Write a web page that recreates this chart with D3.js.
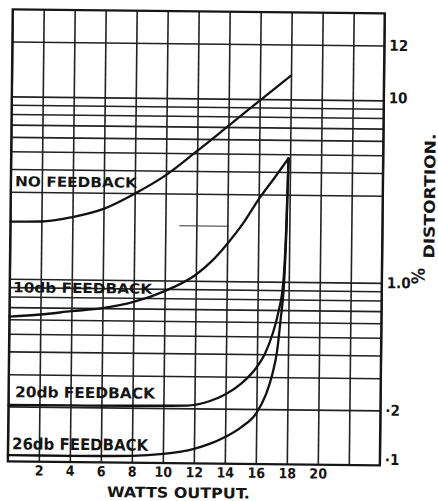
<!DOCTYPE html>
<html lang="en">
<head>
<meta charset="utf-8" />
<title>% Distortion vs Watts Output</title>
<script src="https://cdn.jsdelivr.net/npm/d3@7"></script>
<style>
  body { margin: 0; background: #fff; }
  svg { display: block; }
  svg text {
    font-family: "DejaVu Sans Condensed", "DejaVu Sans", sans-serif;
    font-weight: bold;
    fill: #151515;
  }
  .grid line { stroke: #222; stroke-width: 1.6; }
  .grid path, .axis path { display: none; }
  .frame { fill: none; stroke: #161616; stroke-width: 2.3; }
  .curve { fill: none; stroke: #111; stroke-width: 2.3; stroke-linecap: round; }
</style>
</head>
<body>
<div id="chart"></div>
<script>
// watts output (x) and % distortion (y, log scale)
var noFbWatts = [0, 2, 4, 6, 8, 10, 12, 14, 16, 18];
var noFb      = [2.06, 2.07, 2.2, 2.45, 2.98, 3.78, 5.15, 7.1, 9.8, 13.5];

var fb10Watts = [0, 2, 4, 6, 8, 10, 12, 13, 14, 15, 16, 17, 17.9];
var fb10      = [0.62, 0.64, 0.67, 0.70, 0.76, 0.875, 1.08, 1.28, 1.6, 2.07, 2.82, 3.7, 4.75];

var fb20Watts = [0, 4, 8, 11.5, 13, 14, 15, 16, 16.5, 17, 17.35, 17.65, 17.8, 17.9];
var fb20      = [0.204, 0.204, 0.205, 0.207, 0.22, 0.24, 0.275, 0.34, 0.40, 0.52, 0.68, 1.0, 2.0, 4.75];

var fb26Watts = [0, 4, 8, 10, 12, 13, 14, 15, 16, 16.6, 17, 17.3, 17.5, 17.7, 17.82, 17.9];
var fb26      = [0.108, 0.108, 0.109, 0.112, 0.12, 0.128, 0.14, 0.158, 0.19, 0.24, 0.31, 0.42, 0.62, 1.0, 2.0, 4.75];

var curveNames = ["NO FEEDBACK", "10db FEEDBACK", "20db FEEDBACK", "26db FEEDBACK"];

var xTicks = [2, 4, 6, 8, 10, 12, 14, 16, 18, 20];
var gridWatts = d3.range(0, 25, 2);
var yTicks = [0.1, 0.2, 1, 10, 20];
var yTickLabels = ["·1", "·2", "1.0", "10", "12"];
var gridPct = [0.2, 0.3, 0.4, 0.5, 0.6, 0.7, 0.8, 0.9, 1, 3, 4, 5, 6, 7, 8, 9, 10, 20];

var width = 438, height = 501;
var plotLeft = 12.7, plotRight = 384.7, plotTop = 9.3, plotBottom = 461.3;

var x = d3.scaleLinear().domain([0, 24]).range([plotLeft, plotRight]);
var y = d3.scaleLog().domain([0.1, 30]).range([plotBottom, plotTop]);

var svg = d3.select("#chart").append("svg")
    .attr("width", width)
    .attr("height", height);

svg.append("rect").attr("width", width).attr("height", height).attr("fill", "#fff");

// the scanned sheet sits slightly skewed
var g = svg.append("g").attr("transform", "rotate(0.62," + plotLeft + "," + plotTop + ")");

g.append("g")
    .attr("class", "grid")
    .attr("transform", "translate(0," + plotBottom + ")")
    .call(d3.axisBottom(x).tickValues(gridWatts).tickSize(-(plotBottom - plotTop)).tickFormat(""));

g.append("g")
    .attr("class", "grid")
    .attr("transform", "translate(" + plotLeft + ",0)")
    .call(d3.axisLeft(y).tickValues(gridPct).tickSize(-(plotRight - plotLeft)).tickFormat(""));

// the 2% line only survives as a short faint stretch
g.append("line")
    .attr("x1", x(10.9)).attr("x2", x(14.1))
    .attr("y1", y(2)).attr("y2", y(2))
    .attr("stroke", "#333").attr("stroke-width", 1);

g.append("rect")
    .attr("class", "frame")
    .attr("x", plotLeft).attr("y", plotTop)
    .attr("width", plotRight - plotLeft).attr("height", plotBottom - plotTop);

var line = d3.line()
    .x(function(d) { return x(d[0]); })
    .y(function(d) { return y(d[1]); })
    .curve(d3.curveMonotoneX);

var series = [
  d3.zip(noFbWatts, noFb),
  d3.zip(fb10Watts, fb10),
  d3.zip(fb20Watts, fb20),
  d3.zip(fb26Watts, fb26)
];

g.selectAll("path.curve")
    .data(series)
  .enter().append("path")
    .attr("class", "curve")
    .attr("d", line);

// curve labels
var labelPos = [
  {x: 16.9, y: 186.3, size: 14, len: 122},
  {x: 16.1, y: 292.3, size: 14, len: 139},
  {x: 19.2, y: 397.2, size: 15, len: 140},
  {x: 16.8, y: 449.3, size: 16, len: 136}
];
g.selectAll("text.lbl")
    .data(curveNames)
  .enter().append("text")
    .attr("class", "lbl")
    .attr("x", function(d, i) { return labelPos[i].x; })
    .attr("y", function(d, i) { return labelPos[i].y; })
    .style("font-size", function(d, i) { return labelPos[i].size + "px"; })
    .attr("textLength", function(d, i) { return labelPos[i].len; })
    .attr("lengthAdjust", "spacingAndGlyphs")
    .text(function(d) { return d; });

// x axis labels
var xAxis = g.append("g")
    .attr("class", "axis")
    .attr("transform", "translate(0," + plotBottom + ")")
    .call(d3.axisBottom(x).tickValues(xTicks).tickSize(0).tickPadding(4));
xAxis.selectAll("text").style("font-size", "14px");

// right axis labels
var yAxis = g.append("g")
    .attr("class", "axis")
    .attr("transform", "translate(" + plotRight + ",0)")
    .call(d3.axisRight(y).tickValues(yTicks)
      .tickFormat(function(d, i) { return yTickLabels[i]; })
      .tickSize(0).tickPadding(5));
yAxis.selectAll("text").style("font-size", "15px");
yAxis.selectAll("text").filter(function(d) { return d === 0.1; }).attr("dy", "-0.06em");
yAxis.selectAll("text").filter(function(d) { return d === 10; }).attr("dy", "0.15em");

g.append("text")
    .attr("x", 183.7).attr("y", 496)
    .attr("text-anchor", "middle")
    .style("font-size", "14.5px")
    .attr("textLength", 143)
    .attr("lengthAdjust", "spacingAndGlyphs")
    .text("WATTS OUTPUT.");

g.append("text")
    .attr("transform", "translate(432,191.5) rotate(-90)")
    .attr("text-anchor", "middle")
    .attr("dominant-baseline", "central")
    .style("font-size", "15px")
    .attr("textLength", 125)
    .attr("lengthAdjust", "spacingAndGlyphs")
    .text("DISTORTION.");

g.append("text")
    .attr("transform", "translate(420.9,271.6) rotate(-90)")
    .attr("text-anchor", "middle")
    .attr("dominant-baseline", "central")
    .style("font-size", "18px")
    .text("%");
</script>
</body>
</html>
